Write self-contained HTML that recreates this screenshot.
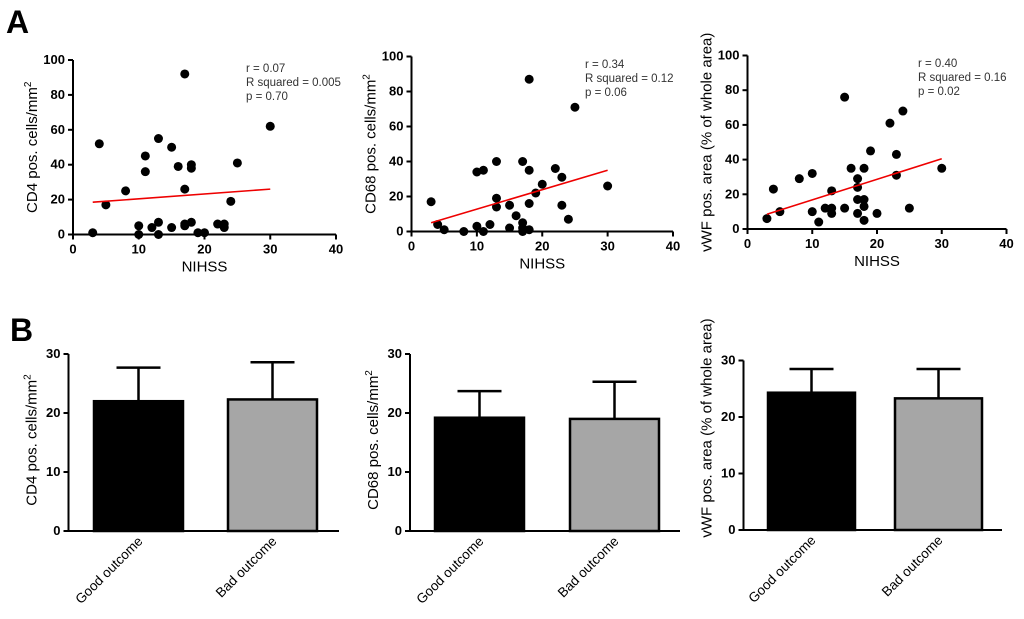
<!DOCTYPE html>
<html><head><meta charset="utf-8"><style>
body{margin:0;background:#fff;}
svg{display:block;font-family:"Liberation Sans",Arial,sans-serif;}
.tick{font-size:13px;font-weight:bold;}
.title{font-size:15px;}
.stat{font-size:11.5px;fill:#333;}
</style></head><body>
<svg id="fig" width="1024" height="619" xmlns="http://www.w3.org/2000/svg">
<text x="6" y="33" font-size="32" font-weight="bold">A</text>
<text x="10" y="341" font-size="32" font-weight="bold">B</text>
</svg>
<script>
const nihssCD4=[3,4,5,8,10,10,11,11,12,13,13,13,15,15,16,17,17,17,17,18,18,18,19,20,22,23,23,24,25,30];
const valCD4=[1,52,17,25,5,0,45,36,4,55,7,0,50,4,39,92,26,6,5,7,40,38,1,1,6,6,4,19,41,62];
const fitCD4=[18.5,26];
const nihssCD68=[3,4,5,8,10,10,11,11,12,13,13,13,15,15,16,17,17,17,17,18,18,18,18,19,20,22,23,23,24,25,30];
const valCD68=[17,4,1,0,34,3,35,0,4,40,19,14,15,2,9,40,5,2,0,87,35,16,1,22,27,36,31,15,7,71,26];
const fitCD68=[5,35];
const nihssVWF=[3,4,5,8,10,10,11,12,13,13,13,15,15,16,17,17,17,17,18,18,18,18,19,20,22,23,23,24,25,30];
const valVWF=[6,23,10,29,32,10,4,12,22,12,9,76,12,35,29,24,17,9,35,17,13,5,45,9,61,43,31,68,12,35];
const fitVWF=[8.5,40.5];
const fitX=[3,30];
const xTicks=[0,10,20,30,40];
const yTicksScatter=[0,20,40,60,80,100];
const categories=["Good outcome","Bad outcome"];
const barCD4=[22,22.3], errCD4=[27.7,28.6];
const barCD68=[19.2,19.0], errCD68=[23.7,25.3];
const barVWF=[24.3,23.3], errVWF=[28.5,28.5];
const yTicksBar=[0,10,20,30];

const NS="http://www.w3.org/2000/svg";
const svg=document.getElementById('fig');
function mk(tag,attrs,parent,text){const e=document.createElementNS(NS,tag);for(const k in attrs)e.setAttribute(k,attrs[k]);if(text!==undefined)e.textContent=text;(parent||svg).appendChild(e);return e;}
function supTitle(el,base,sup){el.textContent=base;if(sup){const s=document.createElementNS(NS,'tspan');s.setAttribute('dy','-6');s.setAttribute('font-size','10');s.textContent=sup;el.appendChild(s);}}

function scatter(p){
  const g=mk('g',{});
  
  
  const sx=v=>p.x0+(v-0)/40*(p.x1-p.x0);
  const sy=v=>p.y0-(v/100)*(p.y0-p.y1);
  mk('line',{x1:p.x0,y1:p.y0,x2:p.x1,y2:p.y0,stroke:'#000','stroke-width':2},g);
  mk('line',{x1:p.x0,y1:p.y0,x2:p.x0,y2:p.y1,stroke:'#000','stroke-width':2},g);
  xTicks.forEach(t=>{mk('line',{x1:sx(t),y1:p.y0,x2:sx(t),y2:p.y0+5,stroke:'#000','stroke-width':2},g);
    const l=mk('text',{x:sx(t),y:p.y0+19,'text-anchor':'middle','class':'tick'},g,t);
    
    });
  yTicksScatter.forEach(t=>{mk('line',{x1:p.x0-5,y1:sy(t),x2:p.x0,y2:sy(t),stroke:'#000','stroke-width':2},g);
    const l=mk('text',{x:p.x0-8,y:sy(t)+4,'text-anchor':'end','class':'tick'},g,t);
    
    });
  p.xs.forEach((x,i)=>{const c=mk('circle',{cx:sx(x),cy:sy(p.ys[i]),r:4.5,fill:'#000'},g);
    
    });
  const fl=mk('line',{x1:sx(fitX[0]),y1:sy(p.fit[0]),x2:sx(fitX[1]),y2:sy(p.fit[1]),stroke:'#e00','stroke-width':1.6},g);
  
  
  const xt=mk('text',{x:(p.x0+p.x1)/2,y:p.y0+37,'text-anchor':'middle','class':'title'},g,'NIHSS');
  
  
  const yt=mk('text',{transform:'translate('+(p.x0-36)+','+((p.y0+p.y1)/2)+') rotate(-90)','text-anchor':'middle','class':'title'},g);
  supTitle(yt,p.ytitle,p.sup);
  
  
  p.stats.forEach((s,i)=>{const t=mk('text',{x:p.sx,y:p.sy+i*14,'class':'stat'},g,s);
    
    });
}
scatter({name:'scatter-cd4',x0:73,x1:336,y0:234.5,y1:60,xs:nihssCD4,ys:valCD4,fit:fitCD4,ytitle:'CD4 pos. cells/mm',sup:'2',stats:['r = 0.07','R squared = 0.005','p = 0.70'],sx:246,sy:72});
scatter({name:'scatter-cd68',x0:411.5,x1:673,y0:231.5,y1:56.5,xs:nihssCD68,ys:valCD68,fit:fitCD68,ytitle:'CD68 pos. cells/mm',sup:'2',stats:['r = 0.34','R squared = 0.12','p = 0.06'],sx:585,sy:68});
scatter({name:'scatter-vwf',x0:747.5,x1:1006.5,y0:229,y1:55.5,xs:nihssVWF,ys:valVWF,fit:fitVWF,ytitle:'vWF pos. area (% of whole area)',sup:'',stats:['r = 0.40','R squared = 0.16','p = 0.02'],sx:918,sy:67});

function bars(p){
  const g=mk('g',{});
  
  
  const sy=v=>p.y0-(v/30)*(p.y0-p.y1);
  const fills=['#000','#a6a6a6'];
  p.vals.forEach((v,i)=>{const bx=p.bx[i];
    const em=mk('line',{x1:bx+p.bw/2,y1:sy(v),x2:bx+p.bw/2,y2:sy(p.errs[i]),stroke:'#000','stroke-width':2.5},g);
    
    
    mk('line',{x1:bx+p.bw/2-22,y1:sy(p.errs[i]),x2:bx+p.bw/2+22,y2:sy(p.errs[i]),stroke:'#000','stroke-width':2.5},g);
    const r=mk('rect',{x:bx,y:sy(v),width:p.bw,height:p.y0-sy(v),fill:fills[i],stroke:'#000','stroke-width':2.5},g);
    
    
    const t=mk('text',{transform:'translate('+(bx+p.bw/2+5)+','+(p.y0+11)+') rotate(-45)','text-anchor':'end','font-size':'13.5'},g,categories[i]);
    
    
  });
  mk('line',{x1:p.x0,y1:p.y0,x2:p.x1,y2:p.y0,stroke:'#000','stroke-width':2},g);
  mk('line',{x1:p.x0,y1:p.y0,x2:p.x0,y2:p.y1,stroke:'#000','stroke-width':2},g);
  yTicksBar.forEach(t=>{mk('line',{x1:p.x0-5,y1:sy(t),x2:p.x0,y2:sy(t),stroke:'#000','stroke-width':2},g);
    const l=mk('text',{x:p.x0-8,y:sy(t)+4,'text-anchor':'end','class':'tick'},g,t);
    
    });
  const yt=mk('text',{transform:'translate('+(p.x0-32)+','+p.ty+') rotate(-90)','text-anchor':'middle','class':'title'},g);
  supTitle(yt,p.ytitle,p.sup);
  
  
}
bars({name:'bar-chart-cd4',x0:68.5,x1:339,y0:531,y1:354,bx:[94,228],bw:89,vals:barCD4,errs:errCD4,ytitle:'CD4 pos. cells/mm',sup:'2',ty:440});
bars({name:'bar-chart-cd68',x0:410,x1:680,y0:531,y1:354,bx:[435,570],bw:89,vals:barCD68,errs:errCD68,ytitle:'CD68 pos. cells/mm',sup:'2',ty:440});
bars({name:'bar-chart-vwf',x0:743.5,x1:1002,y0:530,y1:360.5,bx:[768,895],bw:87,vals:barVWF,errs:errVWF,ytitle:'vWF pos. area (% of whole area)',sup:'',ty:428});
</script>
</body></html>
